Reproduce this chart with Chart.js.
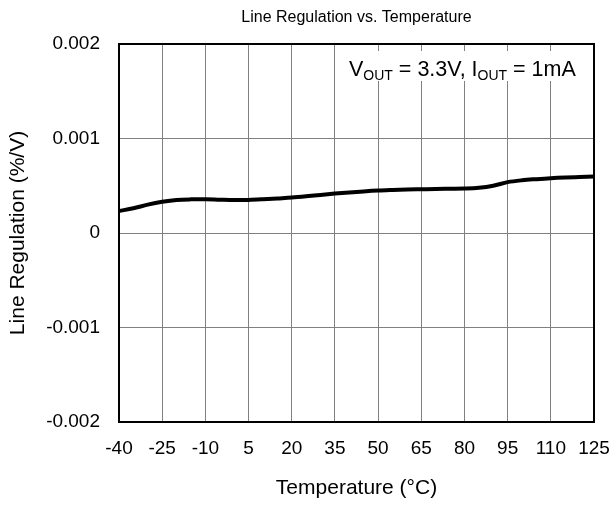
<!DOCTYPE html>
<html>
<head>
<meta charset="utf-8">
<script src="https://cdn.jsdelivr.net/npm/chart.js@4.4.1/dist/chart.umd.min.js"></script>
<style>
  html, body { margin: 0; padding: 0; background: #fff; }
  #wrap { width: 612px; height: 505px; position: relative; }
</style>
</head>
<body>
<div id="wrap"><canvas id="c" width="612" height="505"></canvas></div>
<script>
const chartTitle = "Line Regulation vs. Temperature";
const xAxisTitle = "Temperature (°C)";
const yAxisTitle = "Line Regulation (%/V)";
const temperatures = [-40,-35,-30,-25,-20,-15,-10,-5,0,5,10,15,20,25,30,35,40,45,50,55,60,65,70,75,80,85,90,95,100,105,110,115,120,125];
const lineRegulation = [0.000232,0.000262,0.0003,0.00033,0.00035,0.000356,0.000357,0.000352,0.000348,0.00035,0.000357,0.000366,0.000375,0.000388,0.000403,0.000417,0.000429,0.00044,0.000449,0.000455,0.00046,0.000463,0.000466,0.000468,0.00047,0.000478,0.0005,0.000538,0.000558,0.00057,0.00058,0.000587,0.000592,0.000597];
const xTicks = [-40,-25,-10,5,20,35,50,65,80,95,110,125];
const yTicks = [-0.002,-0.001,0,0.001,0.002];
const yTickLabels = ["-0.002","-0.001","0","0.001","0.002"];

const FONT = "'Liberation Sans', Arial, sans-serif";

const framePlugin = {
  id: 'frame',
  afterDraw(chart) {
    const {ctx, chartArea: a} = chart;
    ctx.save();
    // annotation box
    ctx.fillStyle = '#fff';
    ctx.fillRect(338, 51, 248, 30);
    ctx.fillStyle = '#000';
    ctx.textBaseline = 'alphabetic';
    let x = 349;
    const base = 75.5;
    const big = "21.5px " + FONT, small = "14px " + FONT;
    const parts = [["V", big, 0], ["OUT", small, 4.5], [" = 3.3V, I", big, 0], ["OUT", small, 4.5], [" = 1mA", big, 0]];
    for (const [t, f, dy] of parts) {
      ctx.font = f;
      ctx.fillText(t, x, base + dy);
      x += ctx.measureText(t).width;
    }
    // border
    ctx.strokeStyle = '#000';
    ctx.lineWidth = 2;
    ctx.strokeRect(a.left, a.top, a.right - a.left, a.bottom - a.top);
    // title
    ctx.font = "16px " + FONT;
    ctx.textAlign = 'center';
    ctx.textBaseline = 'middle';
    ctx.fillText(chartTitle, (a.left + a.right) / 2, 18);
    ctx.restore();
  }
};

new Chart(document.getElementById('c'), {
  type: 'line',
  data: {
    datasets: [{
      data: temperatures.map((t, i) => ({x: t, y: lineRegulation[i]})),
      borderColor: '#000',
      borderWidth: 4,
      pointRadius: 0,
      cubicInterpolationMode: 'monotone',
      fill: false
    }]
  },
  options: {
    responsive: false,
    animation: false,
    devicePixelRatio: 1,
    layout: { padding: { top: 44, right: 18, left: 0, bottom: 0 } },
    plugins: { legend: { display: false }, tooltip: { enabled: false }, title: { display: false } },
    scales: {
      x: {
        type: 'linear',
        min: -40, max: 125,
        afterBuildTicks(scale) { scale.ticks = xTicks.map(v => ({value: v})); },
        afterFit(scale) { scale.height = 83; scale.paddingLeft = 0; scale.paddingRight = 0; },
        grid: { color: '#808080', lineWidth: 1, drawTicks: false },
        border: { display: false },
        ticks: { color: '#000', font: { family: FONT, size: 19 }, padding: 15, maxRotation: 0, autoSkip: false,
                 callback: (v) => String(v) },
        title: { display: true, text: xAxisTitle, color: '#000', font: { family: FONT, size: 21 }, padding: { top: 0, bottom: 4 } }
      },
      y: {
        min: -0.002, max: 0.002,
        afterBuildTicks(scale) { scale.ticks = yTicks.map(v => ({value: v})); },
        afterFit(scale) { scale.width = 119; scale.paddingTop = 0; scale.paddingBottom = 0; },
        grid: { color: '#808080', lineWidth: 1, drawTicks: false },
        border: { display: false },
        ticks: { color: '#000', font: { family: FONT, size: 19 }, padding: 19,
                 callback: (v, i) => yTickLabels[i] },
        title: { display: true, text: yAxisTitle, color: '#000', font: { family: FONT, size: 21 }, padding: { top: 6, bottom: 0 } }
      }
    }
  },
  plugins: [framePlugin]
});
</script>
</body>
</html>
